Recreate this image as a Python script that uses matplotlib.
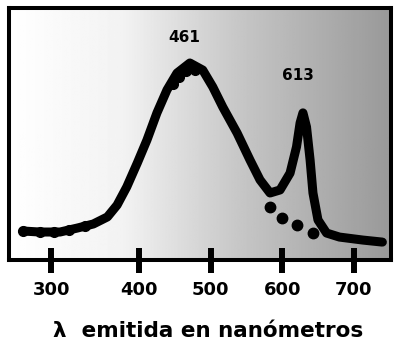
import numpy as np
import matplotlib.pyplot as plt

# emission spectrum (nm, arbitrary intensity 0-100)
wavelength = [268, 287, 310, 330, 348, 364, 375, 386, 398, 411, 425, 439,
              453, 471, 489, 503, 517, 537, 555, 569, 583, 597, 611, 620,
              625, 629, 634, 639, 643, 650, 662, 680, 713, 740]
intensity = [11.5, 11.1, 11.1, 12.7, 14.3, 17.1, 21.8, 29.0, 38.5, 47.6,
             58.4, 67.5, 74.2, 78.2, 75.4, 68.7, 60.7, 50.4, 39.7, 31.8,
             26.6, 27.8, 34.5, 44.9, 54.4, 58.4, 52.8, 39.7, 26.6, 15.9,
             10.7, 9.1, 7.9, 7.1]

# dots of the blue band continuing under the red line
tail_wl = [583, 600, 620, 643]
tail_int = [21.0, 16.7, 13.9, 10.7]

# loose dot markers along the measured band
dots_wl = [268, 287, 303, 320, 338, 447, 456, 466, 478]
dots_int = [11.5, 11.3, 11.3, 11.8, 13.3, 69.8, 72.8, 75.0, 75.3]

peaks = [("461", 463, 88.5), ("613", 622, 73.4)]
ticks = [300, 400, 500, 600, 700]

# axis is stretched below 400 nm in the original
k = 88 / 71.67


def fwd(x):
    x = np.asarray(x, dtype=float)
    return np.where(x < 400, 400 - (400 - x) * k, x)


def inv(t):
    t = np.asarray(t, dtype=float)
    return np.where(t < 400, 400 - (400 - t) / k, t)


fig = plt.figure(figsize=(3.95, 3.46), dpi=100)
ax = fig.add_axes([0.0228, 0.2486, 0.967, 0.728])
ax.set_xscale('function', functions=(fwd, inv))

# speckled background approximated by a grey gradient
grad = np.interp(np.linspace(0, 1, 256), [0, 0.3, 0.6, 1.0], [1.0, 0.95, 0.78, 0.6])
ax.imshow(grad[np.newaxis, :], extent=[0, 1, 0, 1], transform=ax.transAxes,
          cmap='gray', vmin=0, vmax=1, aspect='auto', zorder=0)

ax.plot(wavelength, intensity, color='black', lw=6.5, solid_capstyle='round',
        solid_joinstyle='round', zorder=3)
ax.plot(dots_wl, dots_int, 'o', color='black', ms=7, zorder=3)
ax.plot(tail_wl, tail_int, 'o', color='black', ms=7.5, zorder=3)

for txt, x, y in peaks:
    ax.text(x, y, txt, ha='center', va='center', fontsize=11,
            fontweight='bold', family='DejaVu Sans', zorder=4)

ax.set_xlim(252, 752)
ax.set_ylim(0, 100)
ax.set_xticks(ticks)
ax.set_xticklabels([str(t) for t in ticks], fontsize=13, fontweight='bold',
                   family='DejaVu Sans')
ax.set_yticks([])
ax.tick_params(axis='x', direction='inout', length=18, width=4.3, pad=6)
for s in ax.spines.values():
    s.set_linewidth(2.9)

fig.text(0.527, 1 - 331 / 346, "λ  emitida en nanómetros", ha='center',
         va='center', fontsize=15.5, fontweight='bold', family='DejaVu Sans')

fig.savefig("out.png", dpi=100)
